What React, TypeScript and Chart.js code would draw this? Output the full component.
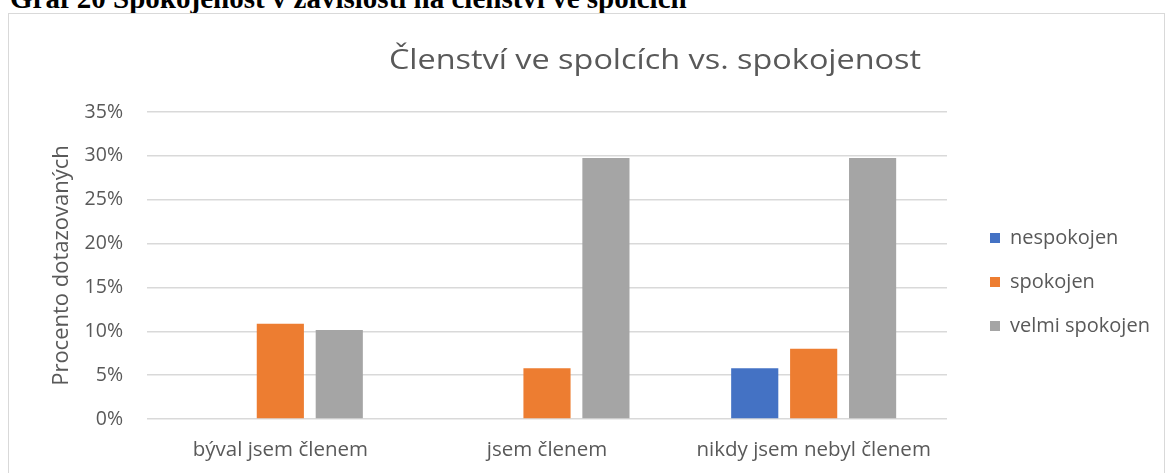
import React, { useEffect, useRef } from "react";
import { Chart, registerables } from "chart.js";

Chart.register(...registerables);

const caption = "Graf 20 Spokojenost v závislosti na členství ve spolcích";
const chartTitle = "Členství ve spolcích vs. spokojenost";
const yAxisTitle = "Procento dotazovaných";
const categories = ["býval jsem členem", "jsem členem", "nikdy jsem nebyl členem"];
const seriesNames = ["nespokojen", "spokojen", "velmi spokojen"];
const nespokojen = [0, 0, 5.8];
const spokojen = [10.85, 5.8, 8.0];
const velmiSpokojen = [10.15, 29.75, 29.75];
const seriesColors = ["#4472C4", "#ED7D31", "#A5A5A5"];
const yTicksMax = 35;
const yTicksStep = 5;

const FONT = "'Open Sans', sans-serif";
const TEXT = "#595959";

export default function App() {
  const ref = useRef<HTMLCanvasElement | null>(null);

  useEffect(() => {
    if (!ref.current) return;

    const titlePlugin = {
      id: "customTitle",
      afterDraw(chart: any) {
        const ctx = chart.ctx;
        ctx.save();
        ctx.font = `27px ${FONT}`;
        ctx.fillStyle = TEXT;
        ctx.textAlign = "center";
        ctx.textBaseline = "alphabetic";
        ctx.translate(646, 55);
        ctx.scale(1.2, 1);
        ctx.fillText(chartTitle, 0, 0);
        ctx.restore();
      },
    };

    const legendPlace = {
      id: "legendPlace",
      beforeLayout(chart: any) {
        const lg = chart.legend;
        if (lg && !lg.__patched) {
          const orig = lg.fit.bind(lg);
          lg.fit = function () {
            orig();
            this.width = 217;
          };
          lg.__patched = true;
        }
      },
      afterLayout(chart: any) {
        const lg = chart.legend;
        if (!lg) return;
        lg.left += 19;
        lg.top -= 20;
        lg.bottom -= 20;
      },
    };

    const chart = new Chart(ref.current, {
      type: "bar",
      data: {
        labels: categories,
        datasets: [
          { label: seriesNames[0], data: nespokojen, backgroundColor: seriesColors[0] },
          { label: seriesNames[1], data: spokojen, backgroundColor: seriesColors[1] },
          { label: seriesNames[2], data: velmiSpokojen, backgroundColor: seriesColors[2] },
        ],
      },
      options: {
        animation: false,
        responsive: false,
        maintainAspectRatio: false,
        devicePixelRatio: 1,
        datasets: {
          bar: { categoryPercentage: 0.663, barPercentage: 0.8 },
        },
        layout: { padding: { top: 98, left: 0, right: 0, bottom: 0 } },
        plugins: {
          title: { display: false },
          tooltip: { enabled: false },
          legend: {
            position: "right",
            labels: {
              boxWidth: 10,
              boxHeight: 10,
              padding: 24,
              color: TEXT,
              font: { family: FONT, size: 20 },
            },
          },
        },
        scales: {
          x: {
            grid: { display: false, drawTicks: false },
            border: { display: false },
            ticks: {
              color: TEXT,
              font: { family: FONT, size: 20.5 },
              padding: 19,
              maxRotation: 0,
              autoSkip: false,
            },
            afterFit(scale: any) {
              scale.height = 73;
            },
          },
          y: {
            min: 0,
            max: yTicksMax,
            grid: { color: "#d9d9d9", lineWidth: 1.5, drawTicks: false },
            border: { display: false },
            ticks: {
              stepSize: yTicksStep,
              color: TEXT,
              font: { family: FONT, size: 19.5 },
              padding: 24,
              callback: (v: any) => `${v}%`,
            },
            title: {
              display: true,
              text: yAxisTitle,
              color: TEXT,
              font: { family: FONT, size: 22 },
              padding: { top: 40, bottom: 0 },
            },
            afterFit(scale: any) {
              scale.width = 138;
            },
          },
        },
      },
      plugins: [titlePlugin, legendPlace],
    });

    return () => chart.destroy();
  }, []);

  return (
    <>
      <div
        style={{
          position: "absolute",
          left: 10,
          top: -16,
          fontFamily: "'Liberation Serif', 'Times New Roman', serif",
          fontWeight: "bold",
          fontSize: 29,
          lineHeight: "29px",
          whiteSpace: "nowrap",
          color: "#000",
        }}
      >
        {caption}
      </div>
      <div
        style={{
          position: "absolute",
          left: 8,
          top: 13,
          width: 1157,
          height: 480,
          border: "1px solid #d9d9d9",
          boxSizing: "border-box",
          background: "#fff",
        }}
      >
        <canvas ref={ref} width={1155} height={478} style={{ display: "block", width: 1155, height: 478 }} />
      </div>
    </>
  );
}
